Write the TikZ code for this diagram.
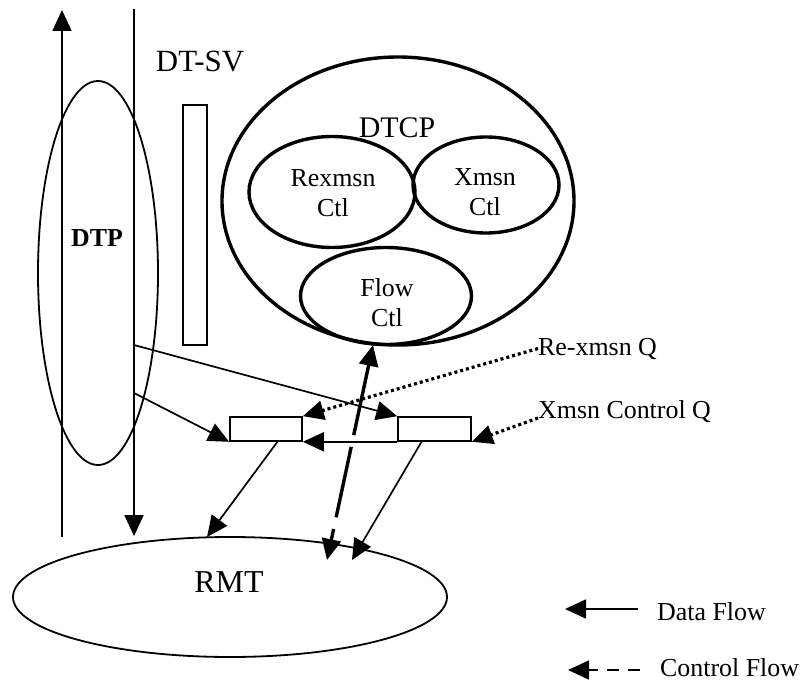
\documentclass[tikz,border=0pt]{standalone}
\usepackage{fontspec}
\setmainfont{Liberation Serif}
\usetikzlibrary{arrows.meta,shapes.geometric,calc}
\tikzset{
  tipA/.tip={Triangle[length=21bp,width=19bp]},
  flowline/.style={line width=1.7bp,-tipA},
  dotarrow/.style={line width=3.2bp,dash pattern=on 3bp off 3bp,-tipA},
  ctlarrow/.style={line width=3.4bp,dash pattern=on 72bp off 12bp,tipA-tipA},
  thinell/.style={ellipse,draw,line width=1.8bp,inner sep=0pt},
  thickell/.style={ellipse,draw,line width=3.4bp,inner sep=0pt},
  qbox/.style={rectangle,draw,line width=1.6bp,inner sep=0pt,minimum width=72bp,minimum height=24bp},
  lbl/.style={inner sep=0pt,font=\fontsize{26}{30}\selectfont},
  lbltwo/.style={inner sep=0pt,align=center,font=\fontsize{26}{30}\selectfont},
}
\begin{document}
\begin{tikzpicture}[x=1bp,y=-1bp]
\useasboundingbox (0,0) rectangle (803,689);

% RMT
\node[thinell,minimum width=434bp,minimum height=120bp] (rmt) at (230,597) {};
\node[lbl,font=\fontsize{32}{36}\selectfont,anchor=base] (rmttext) at (229,592) {RMT};

% DTP
\node[thinell,minimum width=120bp,minimum height=384bp] (dtp) at (98,273) {};
\node[lbl,font=\fontsize{26}{30}\selectfont\bfseries,anchor=base] (dtptext) at (97,246) {DTP};

% vertical data flow lines
\coordinate (upS) at (62,537);
\coordinate (upE) at (62,10);
\coordinate (dnS) at (134,9);
\draw[flowline] (upS) -- (upE);
\draw[flowline] (dnS) -- (dnS |- rmt.north);

% DT-SV
\node[lbl,font=\fontsize{31}{35}\selectfont,anchor=base] (dtsv) at (200,72) {DT-SV};
\node[rectangle,draw,line width=1.6bp,inner sep=0pt,minimum width=24bp,minimum height=240bp] (svbox) at (195,225) {};

% DTCP
\node[thickell,minimum width=352bp,minimum height=288bp] (dtcp) at (398,201) {};
\node[lbl,font=\fontsize{30}{34}\selectfont,anchor=base] (dtcptext) at (397,138) {DTCP};
\node[thickell,minimum width=166bp,minimum height=111bp] (rex) at (332,192) {};
\node[thickell,minimum width=146bp,minimum height=96bp] (xm) at (486,185) {};
\node[thickell,minimum width=171bp,minimum height=97bp] (flow) at (386,296) {};
\node[lbltwo] (rextext) at (333,193) {Rexmsn\\Ctl};
\node[lbltwo] (xmtext) at (485,192) {Xmsn\\Ctl};
\node[lbltwo] (flowtext) at (387,303) {Flow\\Ctl};

% queues
\node[qbox] (box1) at (266,429) {};
\node[qbox,minimum width=73bp] (box2) at (434.5,429) {};

% queue labels
\node[lbl,anchor=base west] (rq) at (538,355) {Re-xmsn Q};
\node[lbl,anchor=base west] (xq) at (538,418) {Xmsn Control Q};

% data flow arrows
\coordinate (d1) at (134,345);
\coordinate (d2) at (134,393);
\draw[flowline] (d1) -- (box2.north west);
\draw[flowline] (d2) -- (box1.south west);
\draw[flowline] (box2.south west) -- (box1.south east);
\coordinate (b1out) at (278,441);
\coordinate (b2out) at (422,441);
\coordinate (t1) at (207,537);
\coordinate (t2) at (352,560);
\draw[flowline] (b1out) -- (t1);
\draw[flowline] (b2out) -- (t2);

% dotted queue arrows
\draw[dotarrow] (rq.west) -- (box1.north east);
\draw[dotarrow] (xq.base west) -- (box2.south east);

% control flow
\coordinate (c1) at (373,345);
\coordinate (c2) at (327,560);
\draw[ctlarrow] (c1) -- (c2);

% legend
\coordinate (l1s) at (638,609);
\coordinate (l1e) at (565,609);
\coordinate (l2s) at (640,670);
\coordinate (l2e) at (568,670);
\draw[flowline] (l1s) -- (l1e);
\draw[line width=1.7bp,dash pattern=on 12bp off 9bp,-tipA] (l2s) -- (l2e);
\node[lbl,anchor=base west] (ldata) at (657,620) {Data Flow};
\node[lbl,anchor=base west] (lctl) at (660,676) {Control Flow};
\end{tikzpicture}
\end{document}
